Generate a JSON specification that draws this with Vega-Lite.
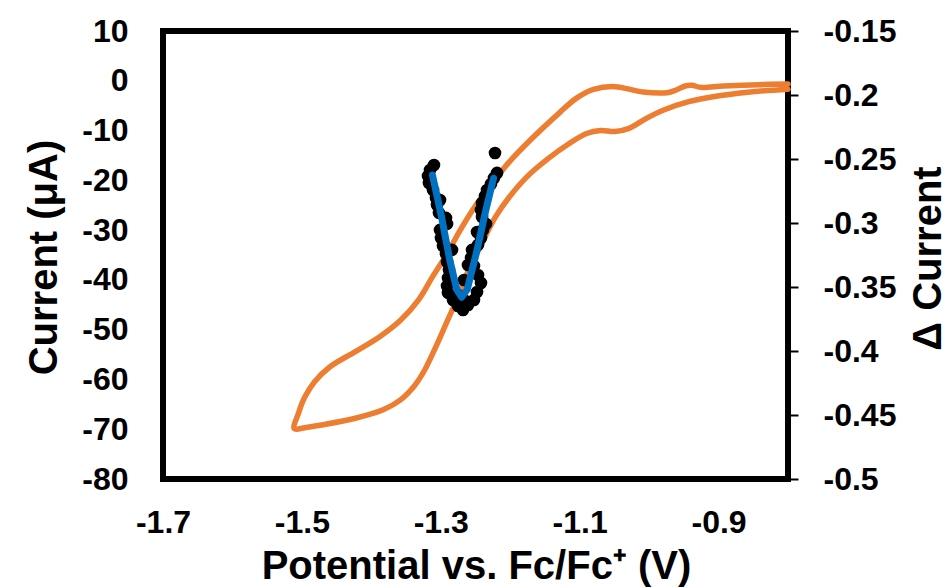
{
  "$schema": "https://vega.github.io/schema/vega-lite/v6.json",
  "width": 625,
  "height": 448,
  "autosize": "none",
  "padding": {"left": 163, "top": 31, "right": 160, "bottom": 109},
  "background": "white",
  "config": {
    "view": {"stroke": "black", "strokeWidth": 6},
    "axis": {
      "labelFont": "Liberation Sans", "labelFontWeight": "bold", "labelFontSize": 32, "labelColor": "black",
      "titleFont": "Liberation Sans", "titleFontWeight": "bold", "titleFontSize": 40, "titleColor": "black",
      "grid": false, "domain": false, "labelFlush": false, "labelOverlap": false
    }
  },
  "datasets": {
    "cv": [
      {"i": 0, "v": -0.800, "current": -0.65},
      {"i": 1, "v": -0.842, "current": -0.78},
      {"i": 2, "v": -0.893, "current": -1.05},
      {"i": 3, "v": -0.926, "current": -1.32},
      {"i": 4, "v": -0.938, "current": -0.92},
      {"i": 5, "v": -0.948, "current": -1.05},
      {"i": 6, "v": -0.961, "current": -1.85},
      {"i": 7, "v": -0.974, "current": -2.39},
      {"i": 8, "v": -1.009, "current": -2.26},
      {"i": 9, "v": -1.049, "current": -1.18},
      {"i": 10, "v": -1.080, "current": -1.72},
      {"i": 11, "v": -1.105, "current": -3.53},
      {"i": 12, "v": -1.130, "current": -6.54},
      {"i": 13, "v": -1.171, "current": -11.9},
      {"i": 14, "v": -1.201, "current": -16.25},
      {"i": 15, "v": -1.226, "current": -20.6},
      {"i": 16, "v": -1.251, "current": -25.3},
      {"i": 17, "v": -1.272, "current": -30.0},
      {"i": 18, "v": -1.292, "current": -35.0},
      {"i": 19, "v": -1.312, "current": -39.4},
      {"i": 20, "v": -1.332, "current": -44.0},
      {"i": 21, "v": -1.358, "current": -48.1},
      {"i": 22, "v": -1.388, "current": -51.4},
      {"i": 23, "v": -1.423, "current": -54.4},
      {"i": 24, "v": -1.459, "current": -57.4},
      {"i": 25, "v": -1.482, "current": -60.5},
      {"i": 26, "v": -1.496, "current": -63.6},
      {"i": 27, "v": -1.505, "current": -66.8},
      {"i": 28, "v": -1.511, "current": -69.9},
      {"i": 29, "v": -1.496, "current": -69.7},
      {"i": 30, "v": -1.474, "current": -69.2},
      {"i": 31, "v": -1.423, "current": -67.8},
      {"i": 32, "v": -1.383, "current": -66.1},
      {"i": 33, "v": -1.358, "current": -64.1},
      {"i": 34, "v": -1.337, "current": -61.1},
      {"i": 35, "v": -1.322, "current": -57.8},
      {"i": 36, "v": -1.307, "current": -53.4},
      {"i": 37, "v": -1.292, "current": -48.7},
      {"i": 38, "v": -1.277, "current": -44.0},
      {"i": 39, "v": -1.262, "current": -38.7},
      {"i": 40, "v": -1.241, "current": -32.7},
      {"i": 41, "v": -1.221, "current": -27.3},
      {"i": 42, "v": -1.201, "current": -23.3},
      {"i": 43, "v": -1.176, "current": -19.3},
      {"i": 44, "v": -1.145, "current": -15.6},
      {"i": 45, "v": -1.115, "current": -12.6},
      {"i": 46, "v": -1.090, "current": -10.6},
      {"i": 47, "v": -1.070, "current": -10.0},
      {"i": 48, "v": -1.049, "current": -10.2},
      {"i": 49, "v": -1.029, "current": -9.55},
      {"i": 50, "v": -1.004, "current": -7.55},
      {"i": 51, "v": -0.979, "current": -5.87},
      {"i": 52, "v": -0.943, "current": -4.2},
      {"i": 53, "v": -0.908, "current": -3.2},
      {"i": 54, "v": -0.858, "current": -2.3},
      {"i": 55, "v": -0.800, "current": -1.7}
    ],
    "dots": [
      {"v": -1.3098, "delta": -0.2547},
      {"v": -1.3155, "delta": -0.2586},
      {"v": -1.3184, "delta": -0.2633},
      {"v": -1.3170, "delta": -0.2687},
      {"v": -1.3112, "delta": -0.2742},
      {"v": -1.3069, "delta": -0.2805},
      {"v": -1.3054, "delta": -0.2859},
      {"v": -1.3026, "delta": -0.2921},
      {"v": -1.2925, "delta": -0.2960},
      {"v": -1.2910, "delta": -0.3007},
      {"v": -1.3011, "delta": -0.3054},
      {"v": -1.2997, "delta": -0.3117},
      {"v": -1.2968, "delta": -0.3179},
      {"v": -1.2925, "delta": -0.3242},
      {"v": -1.2910, "delta": -0.3304},
      {"v": -1.2882, "delta": -0.3367},
      {"v": -1.2896, "delta": -0.3429},
      {"v": -1.2910, "delta": -0.3492},
      {"v": -1.2896, "delta": -0.3546},
      {"v": -1.2824, "delta": -0.3601},
      {"v": -1.2752, "delta": -0.3648},
      {"v": -1.2680, "delta": -0.3679},
      {"v": -1.3011, "delta": -0.2820},
      {"v": -1.2838, "delta": -0.3210},
      {"v": -1.2608, "delta": -0.3640},
      {"v": -1.2522, "delta": -0.3601},
      {"v": -1.2478, "delta": -0.3539},
      {"v": -1.2421, "delta": -0.3468},
      {"v": -1.2464, "delta": -0.3406},
      {"v": -1.2522, "delta": -0.3336},
      {"v": -1.2565, "delta": -0.3273},
      {"v": -1.2550, "delta": -0.3210},
      {"v": -1.2464, "delta": -0.3171},
      {"v": -1.2421, "delta": -0.3117},
      {"v": -1.2392, "delta": -0.3054},
      {"v": -1.2349, "delta": -0.3007},
      {"v": -1.2406, "delta": -0.2953},
      {"v": -1.2421, "delta": -0.2898},
      {"v": -1.2406, "delta": -0.2843},
      {"v": -1.2363, "delta": -0.2789},
      {"v": -1.2334, "delta": -0.2742},
      {"v": -1.2277, "delta": -0.2695},
      {"v": -1.2234, "delta": -0.2648},
      {"v": -1.2190, "delta": -0.2609},
      {"v": -1.2219, "delta": -0.2453},
      {"v": -1.2666, "delta": -0.3445},
      {"v": -1.2608, "delta": -0.3328},
      {"v": -1.2478, "delta": -0.3070},
      {"v": -1.2666, "delta": -0.3601},
      {"v": -1.2752, "delta": -0.3562}
    ],
    "fit": [
      {"v": -1.312, "delta": -0.2625},
      {"v": -1.299, "delta": -0.295},
      {"v": -1.287, "delta": -0.329},
      {"v": -1.277, "delta": -0.352},
      {"v": -1.270, "delta": -0.358},
      {"v": -1.262, "delta": -0.352},
      {"v": -1.249, "delta": -0.324},
      {"v": -1.236, "delta": -0.292},
      {"v": -1.224, "delta": -0.265}
    ]
  },
  "encoding": {
    "x": {
      "field": "v", "type": "quantitative",
      "scale": {"domain": [-1.7, -0.8], "nice": false, "zero": false},
      "axis": {
        "values": [-1.7, -1.5, -1.3, -1.1, -0.9],
        "labelExpr": "replace(format(datum.value, '.1f'), '\u2212', '-')",
        "ticks": false, "tickSize": 0, "labelPadding": 28,
        "title": "Potential vs. Fc/Fc\u207a (V)",
        "titleX": 313, "titleY": 99, "titleAlign": "center", "titleBaseline": "alphabetic"
      }
    }
  },
  "layer": [
    {
      "data": {"name": "cv"},
      "mark": {"type": "line", "color": "#ED7D31", "strokeWidth": 5.5, "strokeJoin": "round", "strokeCap": "round", "interpolate": "catmull-rom"},
      "encoding": {
        "y": {
          "field": "current", "type": "quantitative",
          "scale": {"domain": [-80, 10], "nice": false, "zero": false},
          "axis": {
            "orient": "left",
            "values": [-80, -70, -60, -50, -40, -30, -20, -10, 0, 10],
            "labelExpr": "replace(format(datum.value, 'd'), '\u2212', '-')",
            "ticks": false, "tickSize": 0, "labelPadding": 35,
            "title": "Current (\u03bcA)",
            "titleX": -119, "titleY": 226, "titleAngle": 270, "titleAlign": "center", "titleBaseline": "middle"
          }
        },
        "order": {"field": "i"}
      }
    },
    {
      "layer": [
        {
          "data": {"name": "dots"},
          "mark": {"type": "circle", "color": "black", "size": 160, "opacity": 1},
          "encoding": {
            "y": {
              "field": "delta", "type": "quantitative",
              "scale": {"domain": [-0.5, -0.15], "nice": false, "zero": false},
              "axis": {
                "orient": "right",
                "values": [-0.5, -0.45, -0.4, -0.35, -0.3, -0.25, -0.2, -0.15],
                "labelExpr": "replace(format(datum.value, '~g'), '\u2212', '-')",
                "ticks": true, "tickSize": 10, "tickWidth": 2, "tickColor": "black", "labelPadding": 25,
                "title": "\u0394 Current",
                "titleX": 140, "titleY": 227, "titleAngle": 270, "titleAlign": "center", "titleBaseline": "middle"
              }
            }
          }
        },
        {
          "data": {"name": "fit"},
          "mark": {"type": "line", "color": "#0070C0", "strokeWidth": 7, "strokeJoin": "round", "strokeCap": "round"},
          "encoding": {
            "y": {
              "field": "delta", "type": "quantitative",
              "scale": {"domain": [-0.5, -0.15], "nice": false, "zero": false}
            }
          }
        }
      ]
    }
  ],
  "resolve": {"scale": {"y": "independent"}}
}
